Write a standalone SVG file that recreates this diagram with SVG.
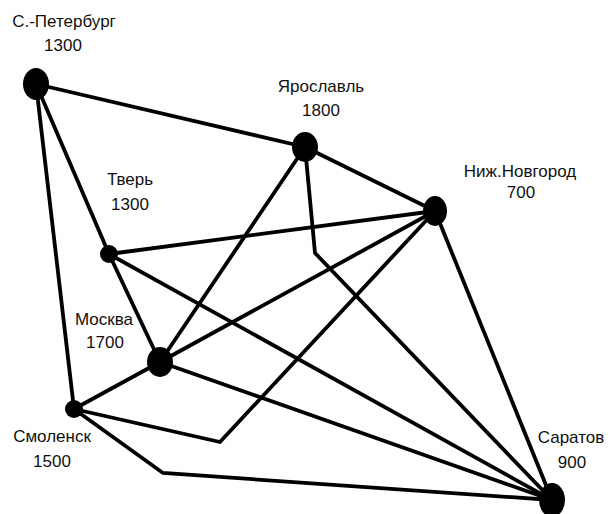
<svg xmlns="http://www.w3.org/2000/svg" width="608" height="514" viewBox="0 0 608 514">
<style>
.e{fill:none;stroke:#000;stroke-width:3.8;stroke-linejoin:miter;stroke-linecap:round}
.n{fill:#000}
.t{font-family:"Liberation Sans",Arial,sans-serif;font-size:17px;fill:#111;text-anchor:middle}
</style>
<rect width="608" height="514" fill="#fff"/>
<g id="edges">
<line class="e" x1="36" y1="84" x2="305" y2="147"/>
<line class="e" x1="36" y1="84" x2="109" y2="254"/>
<line class="e" x1="36" y1="84" x2="74" y2="409"/>
<line class="e" x1="109" y1="254" x2="160" y2="362"/>
<line class="e" x1="109" y1="254" x2="435" y2="211"/>
<line class="e" x1="109" y1="254" x2="552" y2="500"/>
<line class="e" x1="305" y1="147" x2="435" y2="211"/>
<line class="e" x1="305" y1="147" x2="160" y2="362"/>
<polyline class="e" points="305,147 315,253 552,500"/>
<line class="e" x1="435" y1="211" x2="160" y2="362"/>
<polyline class="e" points="435,211 220,442 74,409"/>
<line class="e" x1="435" y1="211" x2="552" y2="500"/>
<line class="e" x1="160" y1="362" x2="552" y2="500"/>
<line class="e" x1="160" y1="362" x2="74" y2="409"/>
<polyline class="e" points="74,409 163,473 552,500"/>
</g>
<g id="spb"><ellipse class="n" cx="36" cy="84" rx="13" ry="16"/><text class="t" x="64" y="27">С.-Петербург</text><text class="t" x="63" y="51">1300</text></g>
<g id="yaroslavl"><ellipse class="n" cx="305" cy="147" rx="13" ry="15"/><text class="t" x="321" y="92">Ярославль</text><text class="t" x="321" y="116">1800</text></g>
<g id="nnovgorod"><ellipse class="n" cx="435" cy="211" rx="12" ry="15"/><text class="t" x="520" y="177">Ниж.Новгород</text><text class="t" x="521" y="198">700</text></g>
<g id="tver"><ellipse class="n" cx="109" cy="254" rx="9" ry="9"/><text class="t" x="130" y="185">Тверь</text><text class="t" x="130" y="210">1300</text></g>
<g id="moscow"><ellipse class="n" cx="160" cy="362" rx="13" ry="15"/><text class="t" x="104" y="325">Москва</text><text class="t" x="105" y="348">1700</text></g>
<g id="smolensk"><ellipse class="n" cx="74" cy="409" rx="9" ry="9"/><text class="t" x="52" y="442">Смоленск</text><text class="t" x="52" y="467">1500</text></g>
<g id="saratov"><ellipse class="n" cx="552" cy="500" rx="13" ry="17"/><text class="t" x="571" y="443">Саратов</text><text class="t" x="572" y="468">900</text></g>
</svg>
